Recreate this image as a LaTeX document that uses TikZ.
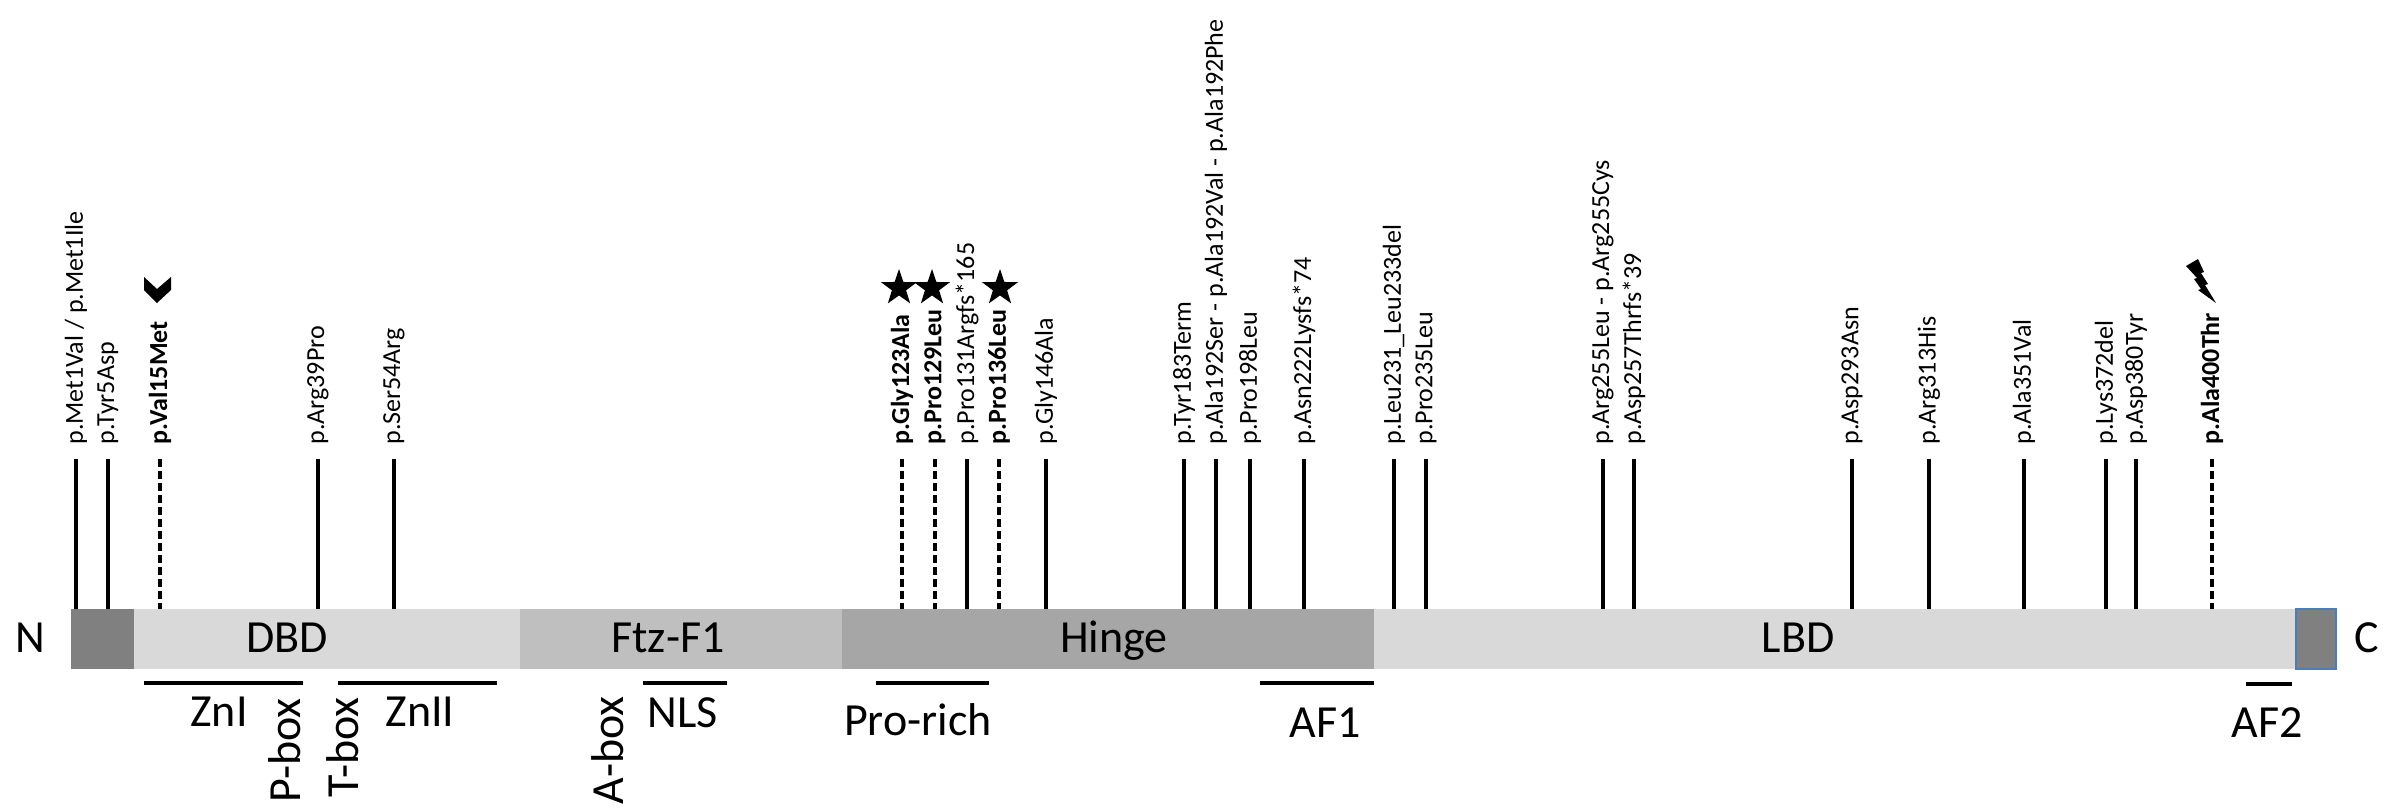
\documentclass[tikz,border=0pt]{standalone}
\usepackage{fontspec}
\setmainfont{Carlito}
\usetikzlibrary{shapes.geometric}
\definecolor{ndark}{HTML}{808080}
\definecolor{dbdc}{HTML}{D9D9D9}
\definecolor{ftzc}{HTML}{BFBFBF}
\definecolor{hingec}{HTML}{A6A6A6}
\definecolor{lbdc}{HTML}{D9D9D9}
\definecolor{cblue}{HTML}{4A7EBB}
\begin{document}
\begin{tikzpicture}[x=0.5pt,y=-0.5pt,
  mutline/.style={line width=2pt,black},
  dashline/.style={mutline,dash pattern=on 4pt off 2pt},
  lab/.style={rotate=90,anchor=west,inner sep=0pt,font=\fontsize{13}{15}\selectfont},
  blab/.style={lab,font=\fontsize{13}{15}\selectfont\bfseries},
  dom/.style={anchor=base,inner sep=0pt,font=\fontsize{23}{26}\selectfont},
  rdom/.style={rotate=90,anchor=base east,inner sep=0pt,font=\fontsize{23}{26}\selectfont},
  uline/.style={line width=2pt,black},
  starmark/.style={star,star points=5,star point ratio=2.55,fill=black,draw=none,minimum size=19pt,inner sep=0pt}]
\useasboundingbox (0,0) rectangle (2384,810);
\fill[white] (0,0) rectangle (2384,810);
% protein bar
\fill[ndark] (71,609) rectangle (134,669);
\fill[dbdc] (134,609) rectangle (520,669);
\fill[ftzc] (520,609) rectangle (842,669);
\fill[hingec] (842,609) rectangle (1374,669);
\fill[lbdc] (1374,609) rectangle (2296,669);
\filldraw[fill=ndark,draw=cblue,line width=0.6pt] (2296,609) rectangle (2336,669);
% domain names
\node[dom] (nterm) at (30,652) {N};
\node[dom] (cterm) at (2367,652) {C};
\node[dom] (dbd) at (287,652) {DBD};
\node[dom] (ftz) at (668,652) {Ftz-F1};
\node[dom] (hinge) at (1114,652) {Hinge};
\node[dom] (lbd) at (1798,652) {LBD};
% sub-regions
\draw[uline] (144,683) -- (303,683);
\draw[uline] (338,683) -- (497,683);
\draw[uline] (643,683) -- (727,683);
\draw[uline] (876,683) -- (989,683);
\draw[uline] (1260,683) -- (1374,683);
\draw[uline] (2246,684) -- (2292,684);
\node[dom] (zn1) at (219,726) {ZnI};
\node[dom] (zn2) at (420,726) {ZnII};
\node[dom] (nls) at (683,727) {NLS};
\node[dom] (prorich) at (918,735) {Pro-rich};
\node[dom] (af1) at (1325,737) {AF1};
\node[dom] (af2) at (2267,737) {AF2};
\node[rdom] (pbox) at (300,698) {P-box};
\node[rdom] (tbox) at (358,697) {T-box};
\node[rdom] (abox) at (623,696) {A-box};
% mutations (solid)
\foreach \x/\t [count=\i] in {
  76/{p.Met1Val / p.Met1Ile},
  108/{p.Tyr5Asp},
  318/{p.Arg39Pro},
  394/{p.Ser54Arg},
  967/{p.Pro131Argfs*165},
  1046/{p.Gly146Ala},
  1184/{p.Tyr183Term},
  1216/{p.Ala192Ser - p.Ala192Val - p.Ala192Phe},
  1250/{p.Pro198Leu},
  1304/{p.Asn222Lysfs*74},
  1394/{p.Leu231\_Leu233del},
  1426/{p.Pro235Leu},
  1603/{p.Arg255Leu - p.Arg255Cys},
  1634/{p.Asp257Thrfs*39},
  1852/{p.Asp293Asn},
  1929/{p.Arg313His},
  2024/{p.Ala351Val},
  2106/{p.Lys372del},
  2136/{p.Asp380Tyr}} {
  \coordinate (mt\i) at (\x,459);
  \coordinate (mb\i) at (\x,609);
  \draw[mutline] (mt\i) -- (mb\i);
  \node[lab] (ml\i) at (\x,445) {\t};
}
% mutations (bold, dashed)
\foreach \x/\t [count=\i] in {
  160/{p.Val15Met},
  902/{p.Gly123Ala},
  935/{p.Pro129Leu},
  999/{p.Pro136Leu},
  2212/{p.Ala400Thr}} {
  \coordinate (dt\i) at (\x,459);
  \coordinate (db\i) at (\x,609);
  \draw[dashline] (dt\i) -- (db\i);
  \node[blab] (dl\i) at (\x,445) {\t};
}
% markers
\fill[black] (144,277) -- (157,289) -- (171,277) -- (171,290) -- (157,303) -- (144,290) -- cycle;
\node[starmark] (star1) at (899,288) {};
\node[starmark] (star2) at (932,288) {};
\node[starmark] (star3) at (1000,288) {};
\fill[black] (2186,266) -- (2198,259) -- (2204,272) -- (2201,273) -- (2208,284) -- (2205,285) -- (2216,303)
  -- (2198,290) -- (2201,289) -- (2194,279) -- (2197,278) -- cycle;
\end{tikzpicture}
\end{document}
